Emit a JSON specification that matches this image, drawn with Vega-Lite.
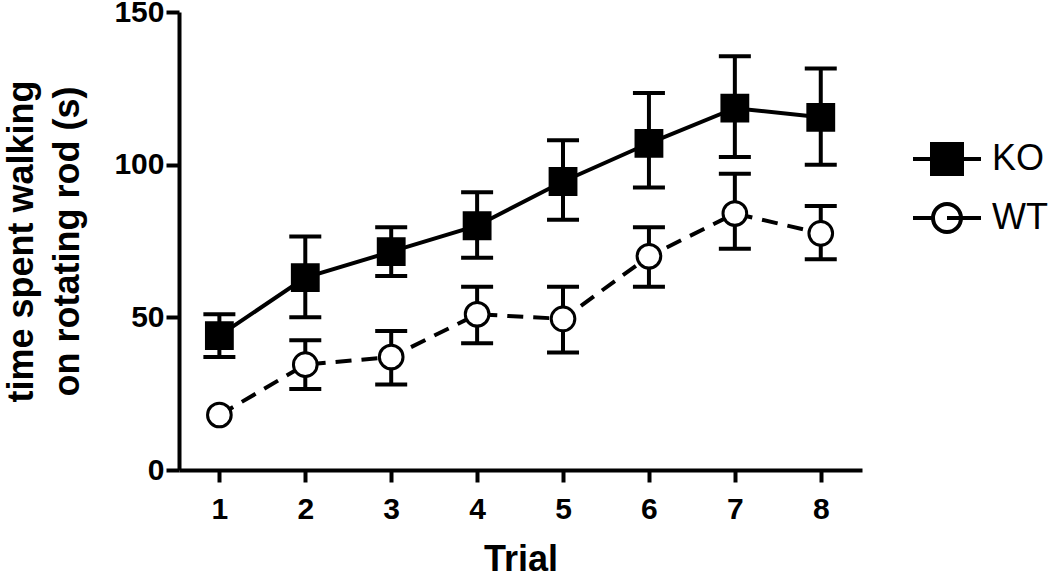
{
  "$schema": "https://vega.github.io/schema/vega-lite/v6.json",
  "width": 683,
  "height": 458,
  "autosize": {"type": "none"},
  "padding": {"left": 179, "top": 12, "right": 188, "bottom": 106},
  "background": "white",
  "config": {
    "view": {"stroke": null},
    "font": "Liberation Sans",
    "axis": {
      "grid": false,
      "domainColor": "black",
      "domainWidth": 4,
      "tickColor": "black",
      "tickWidth": 4,
      "labelColor": "black",
      "labelFont": "Liberation Sans",
      "labelFontWeight": "bold",
      "labelFontSize": 30,
      "titleColor": "black",
      "titleFont": "Liberation Sans",
      "titleFontWeight": "bold",
      "titleFontSize": 36
    }
  },
  "data": {
    "values": [
      {"trial": 1, "group": "KO", "mean": 44, "lo": 37, "hi": 51},
      {"trial": 2, "group": "KO", "mean": 63, "lo": 50, "hi": 76.5},
      {"trial": 3, "group": "KO", "mean": 71.5, "lo": 63.5, "hi": 79.5},
      {"trial": 4, "group": "KO", "mean": 80, "lo": 69.5, "hi": 91},
      {"trial": 5, "group": "KO", "mean": 94.5, "lo": 82, "hi": 108},
      {"trial": 6, "group": "KO", "mean": 107, "lo": 92.5, "hi": 123.5},
      {"trial": 7, "group": "KO", "mean": 118.5, "lo": 102.5, "hi": 135.5},
      {"trial": 8, "group": "KO", "mean": 115.5, "lo": 100, "hi": 131.5},
      {"trial": 1, "group": "WT", "mean": 18, "lo": null, "hi": null},
      {"trial": 2, "group": "WT", "mean": 34.5, "lo": 26.5, "hi": 42.5},
      {"trial": 3, "group": "WT", "mean": 37, "lo": 28, "hi": 45.5},
      {"trial": 4, "group": "WT", "mean": 51, "lo": 41.5, "hi": 60},
      {"trial": 5, "group": "WT", "mean": 49.5, "lo": 38.5, "hi": 60},
      {"trial": 6, "group": "WT", "mean": 70, "lo": 60, "hi": 79.5},
      {"trial": 7, "group": "WT", "mean": 84, "lo": 72.5, "hi": 97},
      {"trial": 8, "group": "WT", "mean": 77.5, "lo": 69, "hi": 86.5}
    ]
  },
  "encoding": {
    "x": {
      "field": "trial",
      "type": "quantitative",
      "scale": {"domain": [0.53, 8.48], "nice": false, "zero": false},
      "axis": {"values": [1, 2, 3, 4, 5, 6, 7, 8], "tickSize": 12, "labelPadding": 12, "title": "Trial", "titlePadding": 18}
    }
  },
  "layer": [
    {
      "mark": {"type": "point", "filled": false, "opacity": 0, "strokeWidth": 4},
      "encoding": {
        "y": {"field": "mean", "type": "quantitative", "scale": {"domain": [0, 150], "nice": false},
          "axis": {"values": [0, 50, 100, 150], "tickSize": 13, "labelPadding": 2, "title": ["time spent walking", "on rotating rod (s)"], "titlePadding": 27, "titleLineHeight": 46}},
        "stroke": {
          "field": "group", "type": "nominal",
          "scale": {"domain": ["KO", "WT"], "range": ["black", "black"]},
          "legend": {
            "title": null, "orient": "none", "legendX": 746, "legendY": 125, "padding": 0, "rowPadding": 14,
            "symbolSize": 1600, "symbolStrokeWidth": 4, "symbolOpacity": 1,
            "labelFont": "Liberation Sans", "labelFontSize": 36, "labelFontWeight": "normal", "labelColor": "black", "labelOffset": 23, "labelLimit": 200
          }
        },
        "shape": {
          "field": "group", "type": "nominal",
          "scale": {"domain": ["KO", "WT"], "range": ["M-1.7,0H1.7M-0.75,-0.75H0.75V0.75H-0.75Z", "M-1.7,0H-0.7M0,0H1.7M-0.7,0A0.7,0.7,0,1,1,0.7,0A0.7,0.7,0,1,1,-0.7,0Z"]},
          "legend": {
            "title": null, "orient": "none", "legendX": 746, "legendY": 125, "padding": 0, "rowPadding": 14,
            "symbolSize": 1600, "symbolStrokeWidth": 4, "symbolOpacity": 1,
            "labelFont": "Liberation Sans", "labelFontSize": 36, "labelFontWeight": "normal", "labelColor": "black", "labelOffset": 23, "labelLimit": 200
          }
        },
        "fill": {
          "field": "group", "type": "nominal",
          "scale": {"domain": ["KO", "WT"], "range": ["black", "white"]},
          "legend": {
            "title": null, "orient": "none", "legendX": 746, "legendY": 125, "padding": 0, "rowPadding": 14,
            "symbolSize": 1600, "symbolStrokeWidth": 4, "symbolOpacity": 1,
            "labelFont": "Liberation Sans", "labelFontSize": 36, "labelFontWeight": "normal", "labelColor": "black", "labelOffset": 23, "labelLimit": 200
          }
        }
      }
    },
    {
      "mark": {"type": "rule", "color": "black", "strokeWidth": 4, "opacity": 1},
      "encoding": {
        "y": {"field": "lo", "type": "quantitative"},
        "y2": {"field": "hi"}
      }
    },
    {
      "mark": {"type": "tick", "orient": "horizontal", "color": "black", "size": 32, "thickness": 4, "opacity": 1},
      "encoding": {"y": {"field": "lo", "type": "quantitative"}}
    },
    {
      "mark": {"type": "tick", "orient": "horizontal", "color": "black", "size": 32, "thickness": 4, "opacity": 1},
      "encoding": {"y": {"field": "hi", "type": "quantitative"}}
    },
    {
      "transform": [{"filter": {"field": "group", "equal": "KO"}}],
      "mark": {"type": "line", "color": "black", "strokeWidth": 4, "opacity": 1},
      "encoding": {"y": {"field": "mean", "type": "quantitative"}}
    },
    {
      "transform": [{"filter": {"field": "group", "equal": "WT"}}],
      "mark": {"type": "line", "color": "black", "strokeWidth": 4, "strokeDash": [16, 10], "opacity": 1},
      "encoding": {"y": {"field": "mean", "type": "quantitative"}}
    },
    {
      "transform": [{"filter": {"field": "group", "equal": "KO"}}],
      "mark": {"type": "point", "shape": "square", "filled": true, "fill": "black", "stroke": "black", "strokeWidth": 2, "size": 720, "opacity": 1},
      "encoding": {"y": {"field": "mean", "type": "quantitative"}}
    },
    {
      "transform": [{"filter": {"field": "group", "equal": "WT"}}],
      "mark": {"type": "point", "shape": "circle", "filled": true, "fill": "white", "stroke": "black", "strokeWidth": 3, "size": 560, "opacity": 1},
      "encoding": {"y": {"field": "mean", "type": "quantitative"}}
    }
  ]
}
